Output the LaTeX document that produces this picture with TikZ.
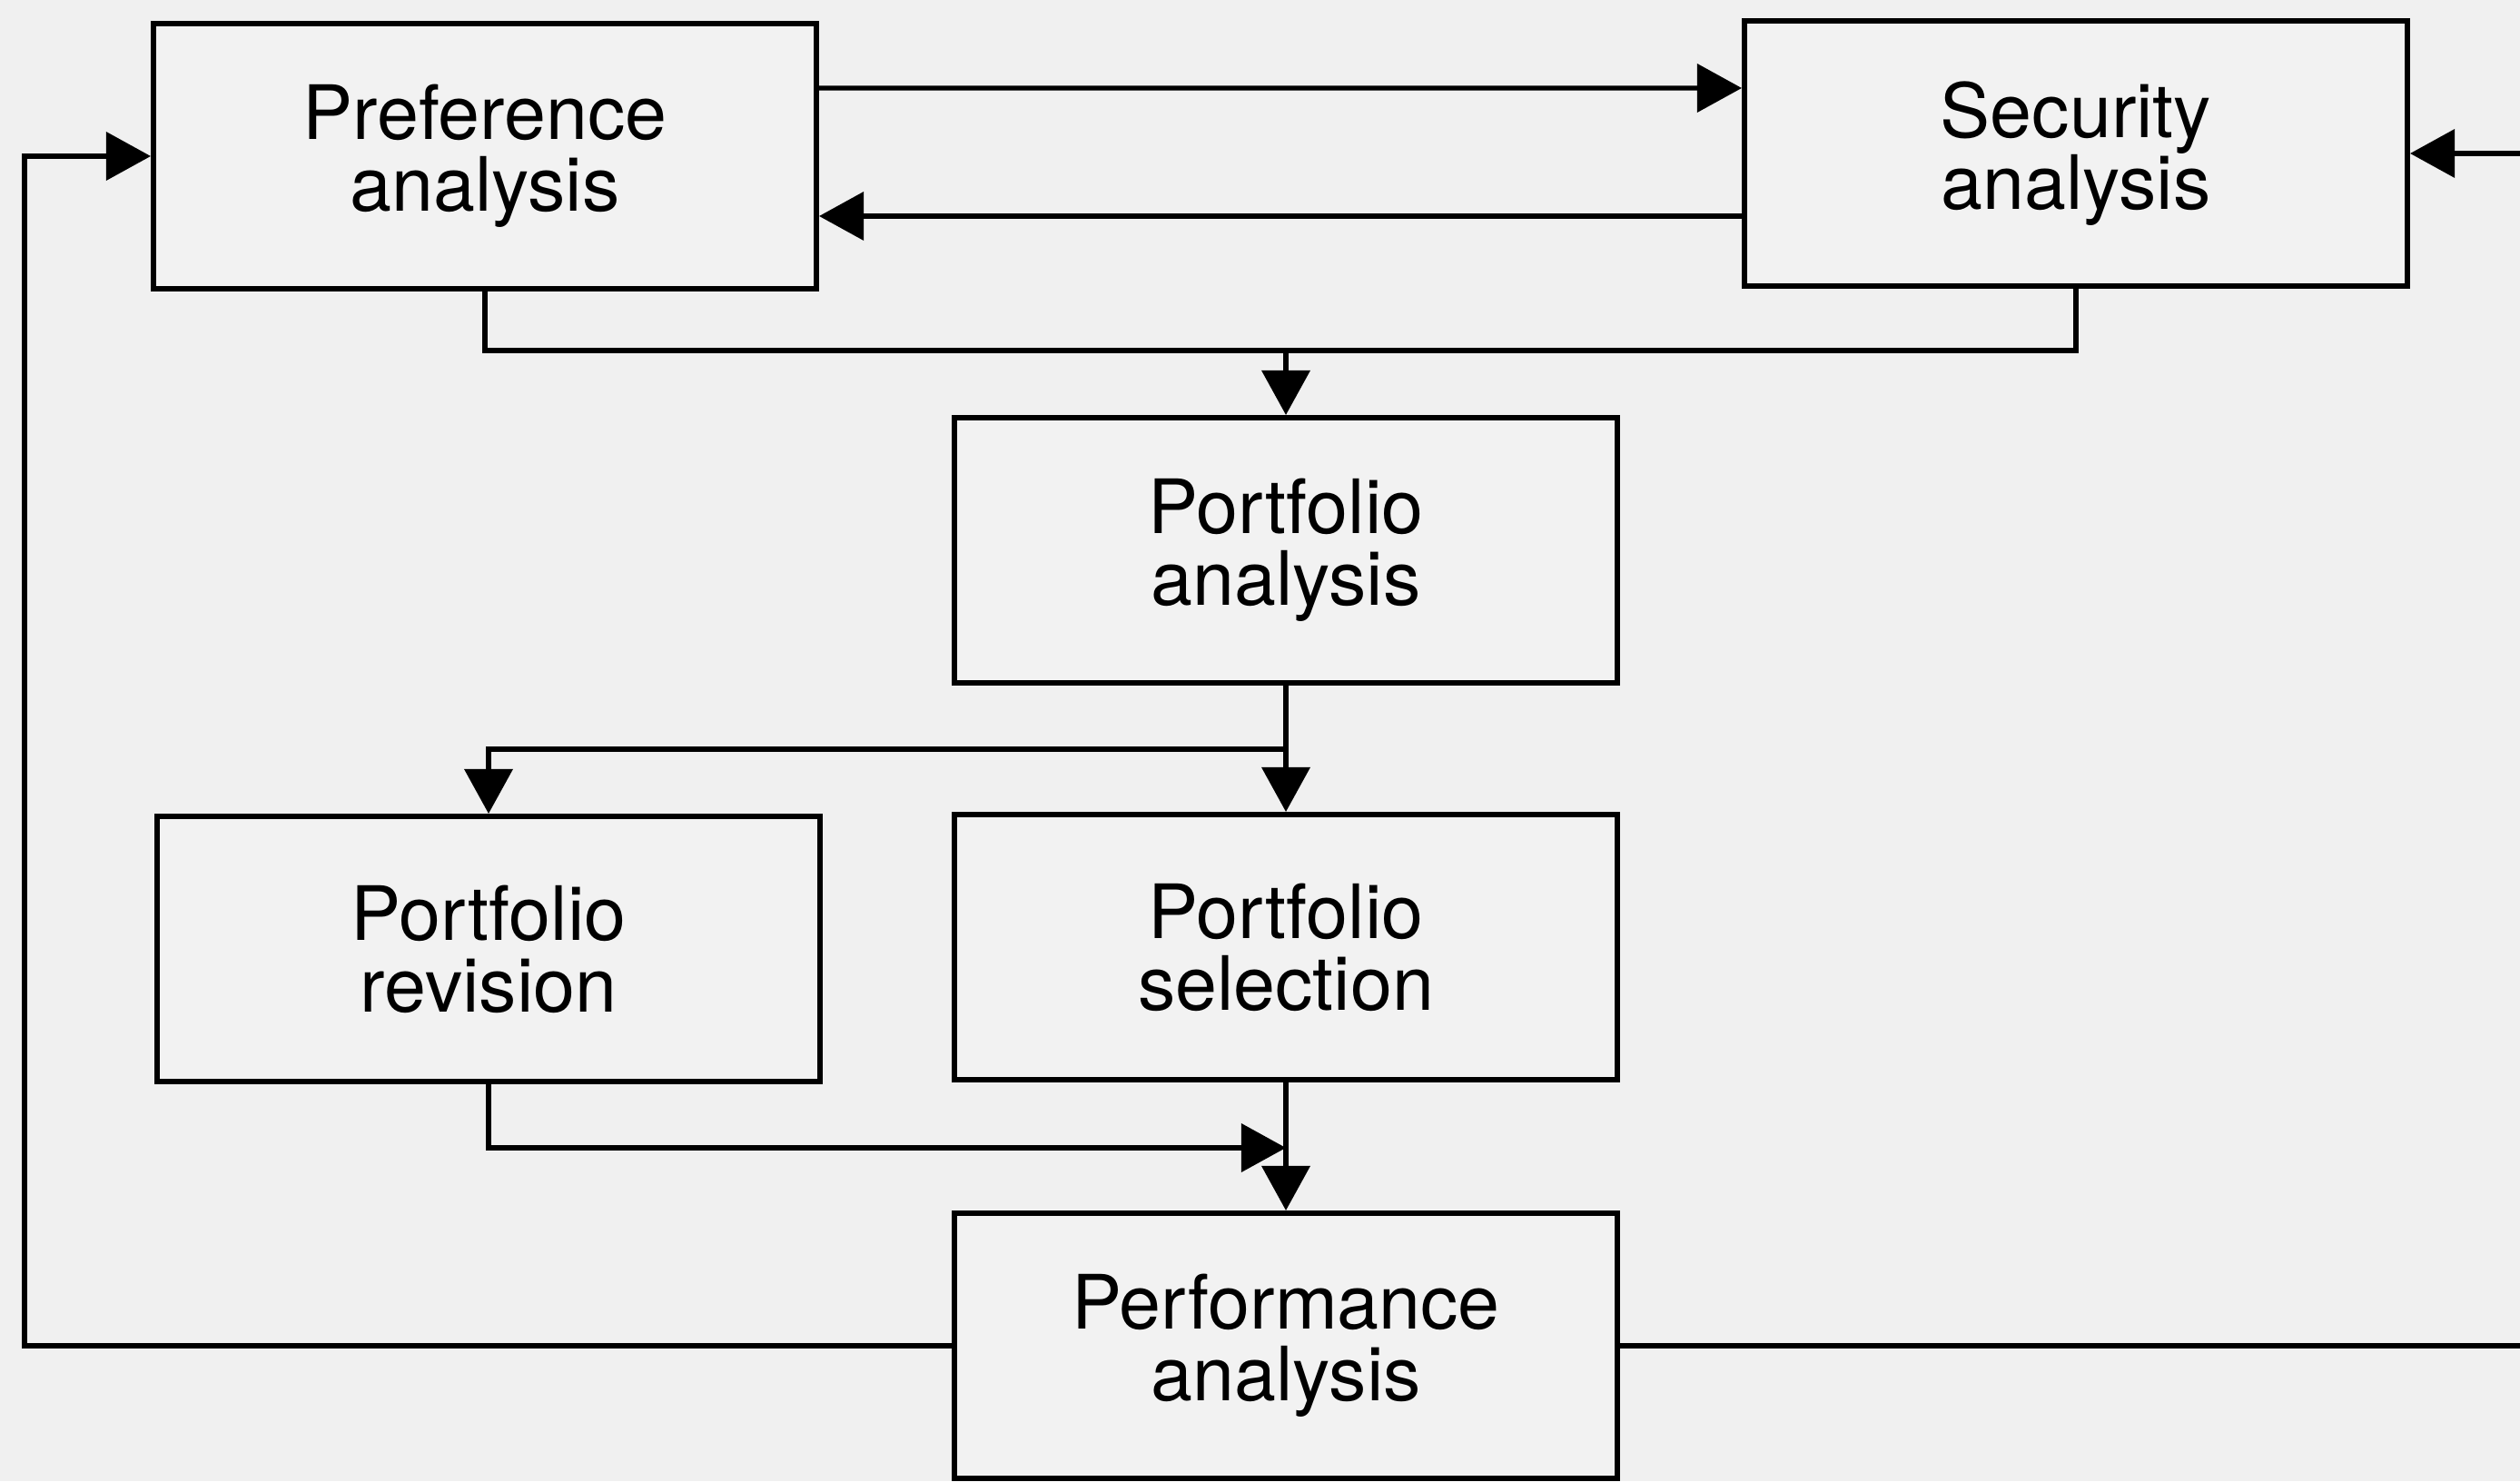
\documentclass[tikz,border=0pt]{standalone}
\usepackage{fontspec}
\setmainfont{TeX Gyre Heros}
\usetikzlibrary{arrows.meta,positioning,calc}
\tikzset{blockbox/.style={draw,line width=1.7pt,fill=black!5,minimum width=7.3cm,minimum height=2.92cm,align=center,font=\fontsize{23.5}{22.5}\selectfont}}

\begin{document}
\begin{tikzpicture}[line width=1.5pt,>={Triangle[length=14pt,width=15pt]}]
      \fill[black!6] (0,0) rectangle (27.75,16.31);
      \clip (0,0) rectangle (27.75,16.31);
      \node[blockbox] (pref) at (5.34,14.59) {Preference\\ analysis};
      \node[blockbox] (sec) at (22.86,14.62) {Security\\ analysis};
      \node[blockbox] (port) at (14.16,10.25) {Portfolio\\ analysis};
      \node[blockbox] (rev) at (5.38,5.86) {Portfolio\\ revision};
      \node[blockbox] (sel) at (14.16,5.88) {Portfolio\\ selection};
      \node[blockbox] (perf) at (14.16,1.49) {Performance\\ analysis};
      \coordinate (merge) at (0,12.45);
      \coordinate (branch) at (0,8.06);
      \coordinate (join) at (0,3.67);
      \coordinate (lft) at (0.27,0);
      \coordinate (rgt) at (28.3,0);
      \draw[->] ([yshift=7.5mm]pref.east) -- ([yshift=7.2mm]sec.west);
      \draw[->] ([yshift=-6.9mm]sec.west) -- ([yshift=-6.6mm]pref.east);
      \draw (pref.south) |- (merge -| sec.south) -- (sec.south);
      \draw[->] (port.north |- merge) -- (port.north);
      \draw[->] (port.south) -- (sel.north);
      \draw[->] (port.south |- branch) -| (rev.north);
      \draw[->] (sel.south) -- (perf.north);
      \draw[->] (rev.south) |- (sel.south |- join);
      \draw[->] (perf.west) -| (lft |- pref.west) -- (pref.west);
      \draw[->] (perf.east) -| (rgt |- sec.east) -- (sec.east);
\end{tikzpicture}
\end{document}
